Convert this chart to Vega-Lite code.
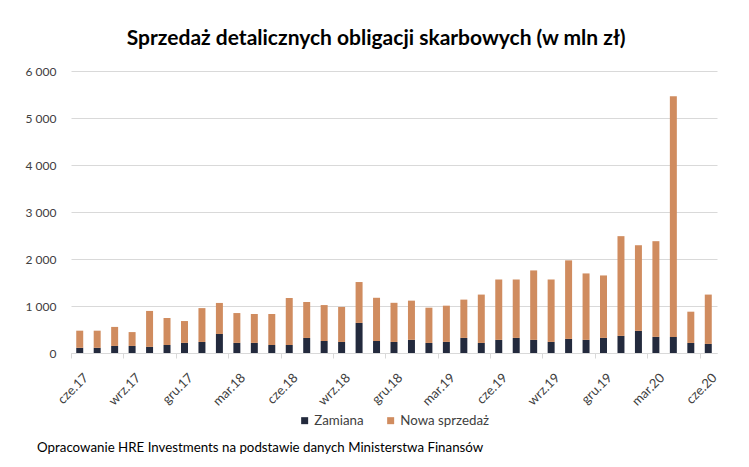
{
  "$schema": "https://vega.github.io/schema/vega-lite/v6.json",
  "padding": {"left": 25, "top": 28, "right": 20, "bottom": 5},
  "background": "white",
  "title": {
    "text": "Sprzedaż detalicznych obligacji skarbowych (w mln zł)",
    "font": "Lato",
    "fontSize": 21,
    "fontWeight": "bold",
    "color": "#000000",
    "anchor": "middle",
    "offset": 16,
    "dx": 4
  },
  "resolve": {"legend": {"color": "independent"}},
  "vconcat": [
    {
      "width": 646,
      "height": 282,
      "title": {
        "text": "Opracowanie HRE Investments na podstawie danych Ministerstwa Finansów",
        "orient": "bottom",
        "anchor": "start",
        "frame": "bounds",
        "font": "Lato",
        "fontSize": 13.3,
        "fontWeight": "normal",
        "color": "#000000",
        "offset": 14,
        "dx": 12
      },
      "data": {
        "values": [
          {"m": "cze.17", "Zamiana": 110, "Nowa sprzedaż": 365},
          {"m": "lip.17", "Zamiana": 110, "Nowa sprzedaż": 365},
          {"m": "sie.17", "Zamiana": 150, "Nowa sprzedaż": 405},
          {"m": "wrz.17", "Zamiana": 150, "Nowa sprzedaż": 295},
          {"m": "paź.17", "Zamiana": 130, "Nowa sprzedaż": 765},
          {"m": "lis.17", "Zamiana": 170, "Nowa sprzedaż": 575},
          {"m": "gru.17", "Zamiana": 215, "Nowa sprzedaż": 465},
          {"m": "sty.18", "Zamiana": 235, "Nowa sprzedaż": 720},
          {"m": "lut.18", "Zamiana": 405, "Nowa sprzedaż": 660},
          {"m": "mar.18", "Zamiana": 215, "Nowa sprzedaż": 635},
          {"m": "kwi.18", "Zamiana": 215, "Nowa sprzedaż": 615},
          {"m": "maj.18", "Zamiana": 170, "Nowa sprzedaż": 660},
          {"m": "cze.18", "Zamiana": 170, "Nowa sprzedaż": 1000},
          {"m": "lip.18", "Zamiana": 320, "Nowa sprzedaż": 765},
          {"m": "sie.18", "Zamiana": 255, "Nowa sprzedaż": 765},
          {"m": "wrz.18", "Zamiana": 235, "Nowa sprzedaż": 745},
          {"m": "paź.18", "Zamiana": 640, "Nowa sprzedaż": 870},
          {"m": "lis.18", "Zamiana": 255, "Nowa sprzedaż": 920},
          {"m": "gru.18", "Zamiana": 235, "Nowa sprzedaż": 833},
          {"m": "sty.19", "Zamiana": 280, "Nowa sprzedaż": 834},
          {"m": "lut.19", "Zamiana": 214, "Nowa sprzedaż": 750},
          {"m": "mar.19", "Zamiana": 236, "Nowa sprzedaż": 771},
          {"m": "kwi.19", "Zamiana": 321, "Nowa sprzedaż": 815},
          {"m": "maj.19", "Zamiana": 214, "Nowa sprzedaż": 1029},
          {"m": "cze.19", "Zamiana": 279, "Nowa sprzedaż": 1285},
          {"m": "lip.19", "Zamiana": 321, "Nowa sprzedaż": 1243},
          {"m": "sie.19", "Zamiana": 279, "Nowa sprzedaż": 1478},
          {"m": "wrz.19", "Zamiana": 236, "Nowa sprzedaż": 1328},
          {"m": "paź.19", "Zamiana": 300, "Nowa sprzedaż": 1671},
          {"m": "lis.19", "Zamiana": 279, "Nowa sprzedaż": 1414},
          {"m": "gru.19", "Zamiana": 321, "Nowa sprzedaż": 1329},
          {"m": "sty.20", "Zamiana": 364, "Nowa sprzedaż": 2122},
          {"m": "lut.20", "Zamiana": 471, "Nowa sprzedaż": 1822},
          {"m": "mar.20", "Zamiana": 343, "Nowa sprzedaż": 2036},
          {"m": "kwi.20", "Zamiana": 343, "Nowa sprzedaż": 5121},
          {"m": "maj.20", "Zamiana": 214, "Nowa sprzedaż": 665},
          {"m": "cze.20", "Zamiana": 193, "Nowa sprzedaż": 1050}
        ]
      },
      "transform": [
        {"fold": ["Zamiana", "Nowa sprzedaż"], "as": ["seria", "wartosc"]}
      ],
      "mark": {"type": "bar"},
      "encoding": {
        "x": {
          "field": "m",
          "type": "ordinal",
          "sort": null,
          "scale": {"paddingInner": 0.6, "paddingOuter": 0.3},
          "axis": {
            "title": null,
            "values": ["cze.17", "wrz.17", "gru.17", "mar.18", "cze.18", "wrz.18", "gru.18", "mar.19", "cze.19", "wrz.19", "gru.19", "mar.20", "cze.20"],
            "labelAngle": -45,
            "labelFont": "Lato",
            "labelFontSize": 13,
            "labelColor": "#404040",
            "labelPadding": 13,
            "domainColor": "#d9d9d9",
            "tickColor": "#d9d9d9",
            "tickSize": 5,
            "tickOffset": -8.73,
            "labelOffset": 10.5,
            "grid": false
          }
        },
        "y": {
          "field": "wartosc",
          "type": "quantitative",
          "stack": "zero",
          "scale": {"domain": [0, 6000], "nice": false},
          "axis": {
            "title": null,
            "values": [0, 1000, 2000, 3000, 4000, 5000, 6000],
            "labelExpr": "replace(format(datum.value, ','), ',', ' ')",
            "labelFont": "Lato",
            "labelFontSize": 12,
            "labelColor": "#404040",
            "labelPadding": 15,
            "domain": false,
            "ticks": false,
            "grid": true,
            "gridColor": "#d9d9d9",
            "gridWidth": 1
          }
        },
        "color": {
          "field": "seria",
          "type": "nominal",
          "scale": {"domain": ["Zamiana", "Nowa sprzedaż"], "range": ["#232a3d", "#d08c5f"]},
          "legend": {
            "title": null,
            "orient": "bottom",
            "direction": "horizontal",
            "symbolType": "square",
            "symbolSize": 49,
            "symbolStrokeWidth": 0,
            "labelFont": "Lato",
            "labelFontSize": 13.3,
            "labelColor": "#404040",
            "labelOffset": 3,
            "columnPadding": 20,
            "offset": 5
          }
        },
        "order": {"field": "seria", "sort": "descending"}
      }
    }
  ],
  "config": {
    "view": {"stroke": null},
    "concat": {"spacing": 0},
    "legend": {"layout": {"bottom": {"anchor": "middle"}}}
  }
}
